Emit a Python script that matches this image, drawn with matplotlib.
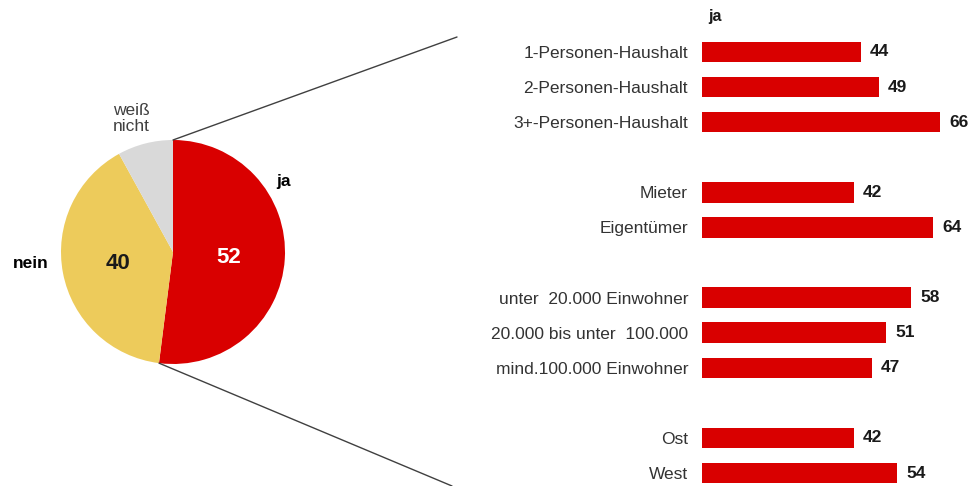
import numpy as np
import matplotlib
matplotlib.use("Agg")
import matplotlib.pyplot as plt
from matplotlib.patches import ConnectionPatch

plt.rcParams['font.family'] = ['Liberation Sans', 'DejaVu Sans']

# ---- data ----
pie_labels = ["ja", "nein", "weiß\nnicht"]
pie_values = [52, 40, 8]
pie_colors = ["#D90000", "#EDCB5B", "#D9D9D9"]

bar_categories = ["1-Personen-Haushalt", "2-Personen-Haushalt", "3+-Personen-Haushalt",
                  "Mieter", "Eigentümer",
                  "unter  20.000 Einwohner", "20.000 bis unter  100.000", "mind.100.000 Einwohner",
                  "Ost", "West"]
bar_values = [44, 49, 66, 42, 64, 58, 51, 47, 42, 54]
bar_rows = [0, 1, 2, 4, 5, 7, 8, 9, 11, 12]
bar_header = "ja"

W, H = 971, 486
fig = plt.figure(figsize=(W / 100, H / 100), dpi=100)

def px_axes(left, top, width, height):
    return fig.add_axes([left / W, 1 - (top + height) / H, width / W, height / H])

# ---- pie ----
R = 112
axp = px_axes(173 - R, 252 - R, 2 * R, 2 * R)
wedges, _ = axp.pie(pie_values, colors=pie_colors, startangle=90, counterclock=False,
                    radius=1, wedgeprops=dict(linewidth=0))
axp.set_xlim(-1, 1)
axp.set_ylim(-1, 1)
axp.set_aspect('equal')
axp.axis('off')

fs = 12.5
axp.text(0.99, 0.63, pie_labels[0], ha='center', va='center', fontsize=fs,
         fontweight='bold', color='black')
axp.text(-1.27, -0.10, pie_labels[1], ha='center', va='center', fontsize=fs,
         fontweight='bold', color='black')
axp.text(-0.37, 1.19, pie_labels[2], ha='center', va='center', fontsize=fs,
         color='#404040', linespacing=1.1)
axp.text(0.50, -0.05, str(pie_values[0]), ha='center', va='center', fontsize=16,
         fontweight='bold', color='white')
axp.text(-0.49, -0.10, str(pie_values[1]), ha='center', va='center', fontsize=16,
         fontweight='bold', color='#1a1a1a')

# connector lines from the "ja" wedge edges
ang_end = np.deg2rad(90 - 360 * pie_values[0] / sum(pie_values))
pA_top = (0, 1)
pA_bot = (np.cos(ang_end), np.sin(ang_end))
for pA, pB in [(pA_top, (457 / W, 1 - 37 / H)), (pA_bot, (452 / W, 1 - 486 / H))]:
    con = ConnectionPatch(xyA=pA, coordsA=axp.transData, xyB=pB,
                          coordsB=fig.transFigure, color='#404040', lw=1.0)
    fig.add_artist(con)

# ---- bars ----
row_h = (473 - 52) / 12
ylo, yhi = -0.7, 12.35
xmax = 70
px_per = 3.61
axb = px_axes(702, 52 + ylo * row_h, xmax * px_per, (yhi - ylo) * row_h)
axb.barh(bar_rows, bar_values, height=0.58, color="#D90000")
axb.set_xlim(0, xmax)
axb.set_ylim(yhi, ylo)
axb.set_yticks(bar_rows)
axb.set_yticklabels(bar_categories, fontsize=fs, color='#333333')
axb.tick_params(axis='y', length=0, pad=10)
axb.set_xticks([])
for s in axb.spines.values():
    s.set_visible(False)
for r, v in zip(bar_rows, bar_values):
    axb.text(v + 2.5, r, str(v), ha='left', va='center', fontsize=fs,
             fontweight='bold', color='#1a1a1a')
axb.text(1.6, -1, bar_header, ha='left', va='center', fontsize=11.5,
         fontweight='bold', color='#1a1a1a')

fig.savefig("out.png", dpi=100)
